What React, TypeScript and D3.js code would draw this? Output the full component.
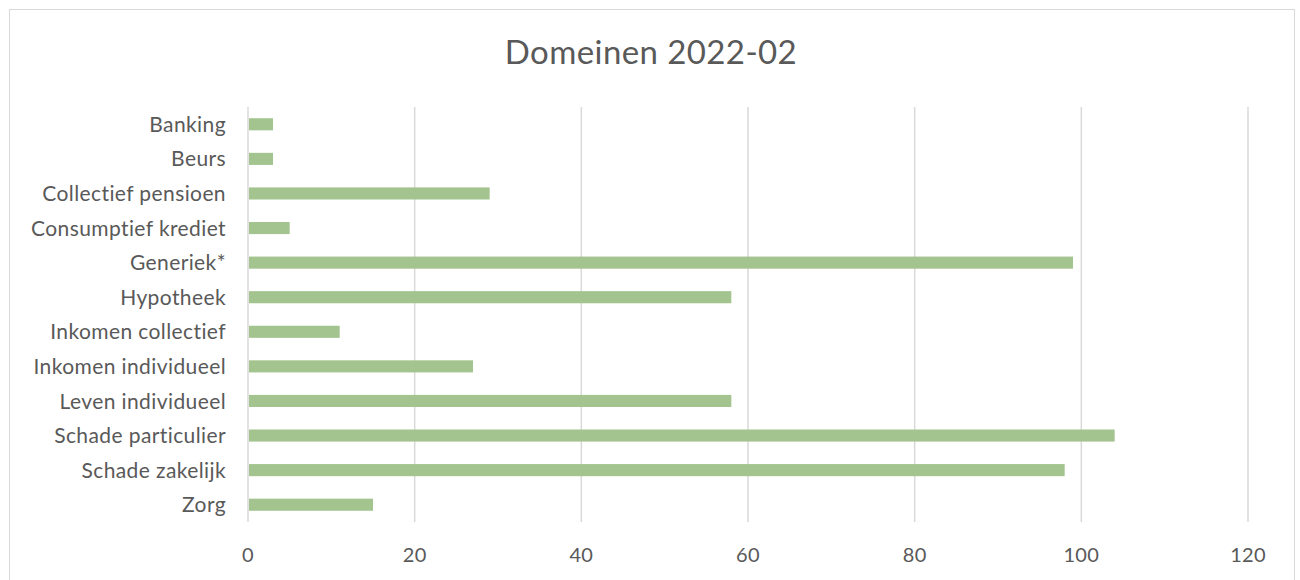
import React from "react";
import * as d3 from "d3";

const categories = [
  "Banking",
  "Beurs",
  "Collectief pensioen",
  "Consumptief krediet",
  "Generiek*",
  "Hypotheek",
  "Inkomen collectief",
  "Inkomen individueel",
  "Leven individueel",
  "Schade particulier",
  "Schade zakelijk",
  "Zorg",
];
const values = [3, 3, 29, 5, 99, 58, 11, 27, 58, 104, 98, 15];
const xTicks = [0, 20, 40, 60, 80, 100, 120];
const title = "Domeinen 2022-02";

export default function App() {
  const W = 1300;
  const H = 580;
  const left = 248;
  const right = 1248;
  const top = 107;
  const bottom = 522;
  const x = d3.scaleLinear().domain([0, 120]).range([left, right]);
  const y = d3.scaleBand<string>().domain(categories).range([top, bottom]).paddingInner(0.65).paddingOuter(0.325);
  const font = "Lato, 'Open Sans', sans-serif";
  const textColor = "#595959";
  return (
    <svg width={W} height={H} style={{ position: "absolute", left: 0, top: 0 }}>
      <rect x={0} y={0} width={W} height={H} fill="#fff" />
      <rect x={9.5} y={9.5} width={1285} height={H} fill="#fff" stroke="#D9D9D9" strokeWidth={1} />
      <text x={651} y={64} textAnchor="middle" fontFamily={font} fontSize={33} letterSpacing={0.4} fill={textColor}>
        {title}
      </text>
      {xTicks.map((t) => (
        <g key={t}>
          <line x1={x(t)} x2={x(t)} y1={top} y2={bottom} stroke="#D9D9D9" strokeWidth={1.5} />
          <text x={x(t)} y={562} textAnchor="middle" fontFamily={font} fontSize={20} letterSpacing={0.3} fill={textColor}>
            {t}
          </text>
        </g>
      ))}
      {categories.map((c, i) => (
        <g key={c}>
          <rect x={x(0) + 1} y={y(c)} width={x(values[i]) - x(0) - 1} height={y.bandwidth()} fill="#A3C48E" />
          <text
            x={226}
            y={(y(c) as number) + y.bandwidth() / 2}
            dy="0.36em"
            textAnchor="end"
            fontFamily={font}
            fontSize={21}
            letterSpacing={0.4}
            fill={textColor}
          >
            {c}
          </text>
        </g>
      ))}
    </svg>
  );
}
